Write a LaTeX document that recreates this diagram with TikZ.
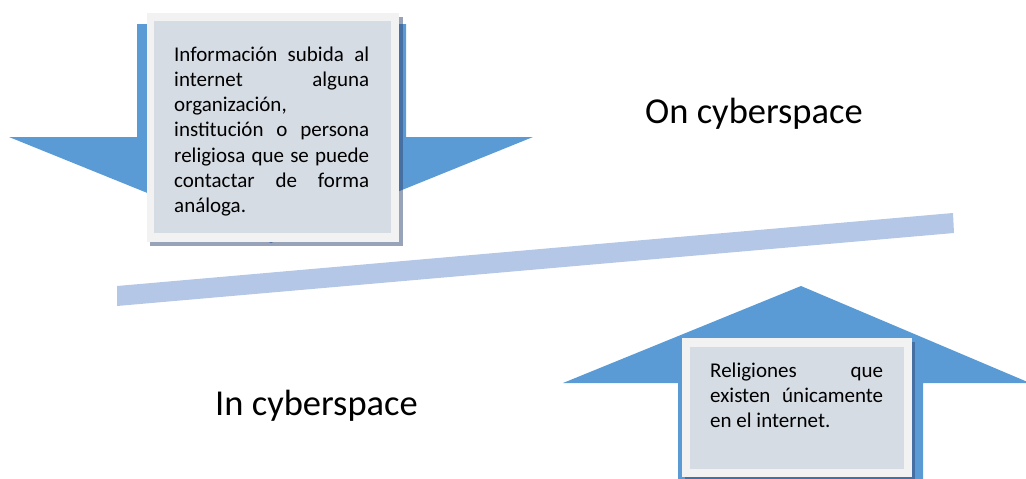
\documentclass[tikz,border=0pt]{standalone}
\usepackage{fontspec}
\setmainfont{Carlito}
\definecolor{arrowblue}{HTML}{5B9BD5}
\definecolor{framegray}{HTML}{F2F2F2}
\definecolor{innerfill}{HTML}{D6DCE4}
\definecolor{barblue}{HTML}{B4C7E7}
\definecolor{shadowc}{RGB}{50,70,115}
\tikzset{
  bigarrow/.style={fill=arrowblue, draw=none},
  boxshadow/.style={fill=shadowc, opacity=0.5, draw=none},
  boxframe/.style={fill=framegray, draw=none},
  boxinner/.style={fill=innerfill, draw=none},
  bodytext/.style={inner sep=0pt, anchor=base west, font=\fontsize{21}{25.3}\selectfont},
  label/.style={inner sep=0pt, anchor=base west, font=\fontsize{36.5}{42}\selectfont},
}
\begin{document}
\begin{tikzpicture}[x=1pt,y=-1pt]
\useasboundingbox (0,0) rectangle (1026,479);
% bar
\fill[barblue] (117,286) -- (953,213) -- (954,233) -- (117,306) -- cycle;
% top arrow
\fill[bigarrow] (137,24) -- (406,24) -- (406,137) -- (533,137) -- (271,243) -- (9,137) -- (137,137) -- cycle;
% top box
\fill[boxshadow] (150,17) rectangle (403,246);
\fill[boxframe] (147,13) rectangle (399,242);
\fill[boxinner] (154,21) rectangle (391,233);
\node[bodytext] (toptext) at (174,61) {\parbox[t]{195pt}{\sloppy
Información subida al\linebreak
internet alguna\linebreak
organización,\newline
institución o persona\linebreak
religiosa que se puede\linebreak
contactar de forma\linebreak
análoga.}};
% bottom arrow
\fill[bigarrow] (801,286) -- (1030,383) -- (923,383) -- (923,480) -- (678,480) -- (678,383) -- (563,383) -- cycle;
% bottom box
\fill[boxshadow] (685,342) rectangle (915,481);
\fill[boxframe] (682,338) rectangle (912,477);
\fill[boxinner] (690,347) rectangle (904,469);
\node[bodytext] (bottext) at (710,377) {\parbox[t]{173pt}{\sloppy
Religiones que\linebreak
existen únicamente\linebreak
en el internet.}};
% labels
\node[label] (on) at (645,123) {On cyberspace};
\node[label] (in) at (215,415) {In cyberspace};
\end{tikzpicture}
\end{document}
